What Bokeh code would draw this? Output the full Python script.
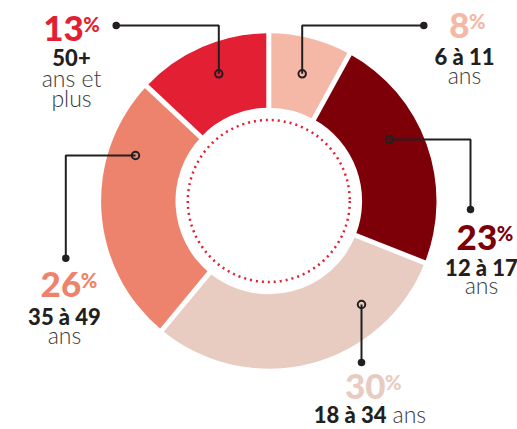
import math
from bokeh.plotting import figure
from bokeh.models import Range1d, ColumnDataSource
from bokeh.core.properties import value
from bokeh.embed import file_html
from bokeh.resources import INLINE

# ---- data ----
groups = ["6 à 11", "12 à 17", "18 à 34", "35 à 49", "50+"]
units = ["ans", "ans", "ans", "ans", "ans et"]
shares = [8, 23, 30, 26, 13]
pct_labels = ["8", "23", "30", "26", "13"]
colors = ["#F5B8A6", "#7D0009", "#E8CCC2", "#EE836D", "#E31F33"]

# ---- layout (pixel coordinates of the picture) ----
W, H = 517, 429
CX, CY = 268.3, 200.5
R_IN, R_OUT = 93.3, 167.7
R_DOT = 81
DARK = "#231F20"
GREY = "#3A3A3A"
BL = 0.35  # baseline correction (fraction of font size)


def P(xi, yi):
    return xi - CX, CY - yi


p = figure(width=W, height=H, x_range=Range1d(-CX, W - CX),
           y_range=Range1d(CY - H, CY), output_backend="svg",
           toolbar_location=None, min_border=0)
p.axis.visible = False
p.grid.visible = False
p.outline_line_color = None
p.background_fill_color = "white"

total = sum(shares)
cum = [0]
for s in shares:
    cum.append(cum[-1] + s)
start = [math.pi / 2 - 2 * math.pi * cum[i] / total for i in range(len(shares))]
end = [math.pi / 2 - 2 * math.pi * cum[i + 1] / total for i in range(len(shares))]

src = ColumnDataSource(dict(start=start, end=end, color=colors))
p.annular_wedge(x=0, y=0, inner_radius=R_IN, outer_radius=R_OUT,
                start_angle="start", end_angle="end", direction="clock",
                fill_color="color", line_color=None, source=src)

# white gaps between segments
gx0, gy0, gx1, gy1 = [], [], [], []
for a in start:
    gx0.append((R_IN - 3) * math.cos(a)); gy0.append((R_IN - 3) * math.sin(a))
    gx1.append((R_OUT + 3) * math.cos(a)); gy1.append((R_OUT + 3) * math.sin(a))
p.segment(x0=gx0, y0=gy0, x1=gx1, y1=gy1, line_color="white", line_width=5)

# dotted inner circle
dots = p.circle(x=0, y=0, radius=R_DOT, fill_color=None, line_color="#E31F33",
                line_width=2.5)
dots.glyph.line_dash = [2, 4]

# leader lines (anchor on ring -> label dot)
leaders = [
    [(301.7, 73.3), (301.7, 25), (423.3, 25)],
    [(389, 139), (470, 139), (470, 209)],
    [(361, 304), (361, 362)],
    [(135, 155), (65.3, 155), (65.3, 257.7)],
    [(218.3, 73.3), (218.3, 25), (115.7, 25)],
]
xs = [[P(*pt)[0] for pt in L] for L in leaders]
ys = [[P(*pt)[1] for pt in L] for L in leaders]
p.multi_line(xs=xs, ys=ys, line_color=DARK, line_width=2)
p.scatter(x=[x[0] for x in xs], y=[y[0] for y in ys], size=7.5,
          fill_color=None, line_color=DARK, line_width=2)
p.scatter(x=[x[-1] for x in xs], y=[y[-1] for y in ys], size=7.5,
          fill_color=DARK, line_color=None)

# label positions: split x between number and %, number baseline, label center
lab = [
    dict(split=469, base=37.3, cx=464, b1=63.3, b2=82.3),
    dict(split=496.7, base=249, cx=481, b1=275, b2=293),
    dict(split=385, base=398, cx=None, b1=421.5, b2=421.5),
    dict(split=80.7, base=296.7, cx=64, b1=324, b2=342.7),
    dict(split=83.3, base=40, cx=71, b1=65, b2=86),
]


def txt(xi, yi, s, size, font, color, align, style="normal"):
    x, y = P(xi, yi - BL * size)
    p.text(x=[x], y=[y], text=[s], text_align=align, text_baseline="alphabetic",
           text_font=value(font), text_font_style=style,
           text_font_size=f"{size}px", text_color=color)


for i, L in enumerate(lab):
    txt(L["split"], L["base"], pct_labels[i], 35, "Lato Black", colors[i], "right")
    txt(L["split"] - 0.5, L["base"] - 10, "%", 20, "Lato Black", colors[i], "left")
    if L["cx"] is None:
        txt(386, L["b1"], groups[i], 22, "Lato Black", DARK, "right")
        txt(392, L["b2"], units[i], 23, "Lato Light", GREY, "left")
    else:
        txt(L["cx"], L["b1"], groups[i], 22, "Lato Black", DARK, "center")
        txt(L["cx"], L["b2"], units[i], 23, "Lato Light", GREY, "center")

# extra line for "plus"
txt(71, 106, "plus", 23, "Lato Light", GREY, "center")

open("out.html", "w").write(file_html(p, INLINE))
